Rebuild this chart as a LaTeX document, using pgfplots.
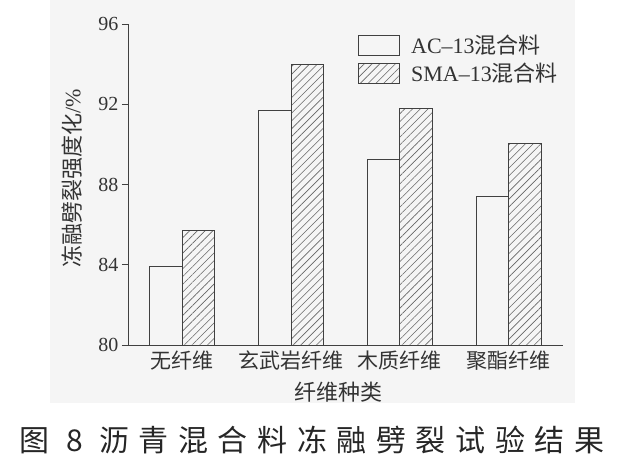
\documentclass[border=0pt]{standalone}
\usepackage{pgfplots}
\pgfplotsset{compat=1.18}
\usetikzlibrary{patterns.meta}
\usepackage{fontspec}
\setmainfont{Liberation Serif}
\newfontfamily\cjk{Noto Sans CJK SC}
\newfontfamily\cjkcap[LetterSpace=32]{Noto Sans CJK SC}
\begin{document}
\begin{tikzpicture}[x=1pt,y=1pt]
\path[use as bounding box] (0,0) rectangle (619,467);
\fill[black!4] (50,64) rectangle (575,467);
\begin{axis}[
  at={(128pt,122pt)}, anchor=south west,
  scale only axis, width=435pt, height=321pt,
  xmin=-0.5, xmax=3.5, ymin=80, ymax=96,
  ytick={80,84,88,92,96},
  xtick={0,1,2,3},
  xticklabels={无纤维,玄武岩纤维,木质纤维,聚酯纤维},
  axis x line=bottom, axis y line=left,
  axis line style={-, black!75, line width=0.9pt},
  tick align=outside, major tick length=6pt,
  xtick style={draw=none},
  ytick style={black!75, line width=0.9pt},
  /pgf/number format/assume math mode=true,
  yticklabel style={font=\fontsize{20}{20}\selectfont, text=black!80},
  xticklabel style={font=\cjk\fontsize{21}{21}\selectfont, text=black!80, yshift=4pt},
  ylabel={{\cjk 冻融劈裂强度化}/\%},
  ylabel style={at={(axis description cs:-0.129,0.52)}, anchor=center, font=\fontsize{22}{22}\selectfont, text=black!80},
  xlabel={纤维种类},
  xlabel style={at={(axis description cs:0.483,-0.148)}, anchor=center, font=\cjk\fontsize{22}{22}\selectfont, text=black!80},
  ybar=0pt, bar width=32.5pt,
  legend style={at={(axis description cs:0.529,0.972)}, anchor=north west, draw=none, fill=none,
    font=\fontsize{22}{22}\selectfont, text=black!80, row sep=4pt, inner sep=0pt},
  legend cell align=left,
  legend image code/.code={\draw[#1] (0pt,-10pt) rectangle (41pt,10pt);},
]
\addplot[draw=black!75, line width=0.8pt, fill=none] coordinates {(0,83.9) (1,91.7) (2,89.25) (3,87.4)};
\addplot[draw=black!75, line width=0.8pt, pattern={Lines[angle=45,distance=5.5pt,line width=0.6pt]}, pattern color=black!60] coordinates {(0,85.7) (1,94.0) (2,91.8) (3,90.05)};
\legend{\hspace{9pt}AC–13{\cjk 混合料}, \hspace{9pt}SMA–13{\cjk 混合料}}
\end{axis}
\node[font=\cjkcap\fontsize{30}{30}\selectfont, text=black!85] at (312,27) {图 8 沥青混合料冻融劈裂试验结果};
\end{tikzpicture}
\end{document}
